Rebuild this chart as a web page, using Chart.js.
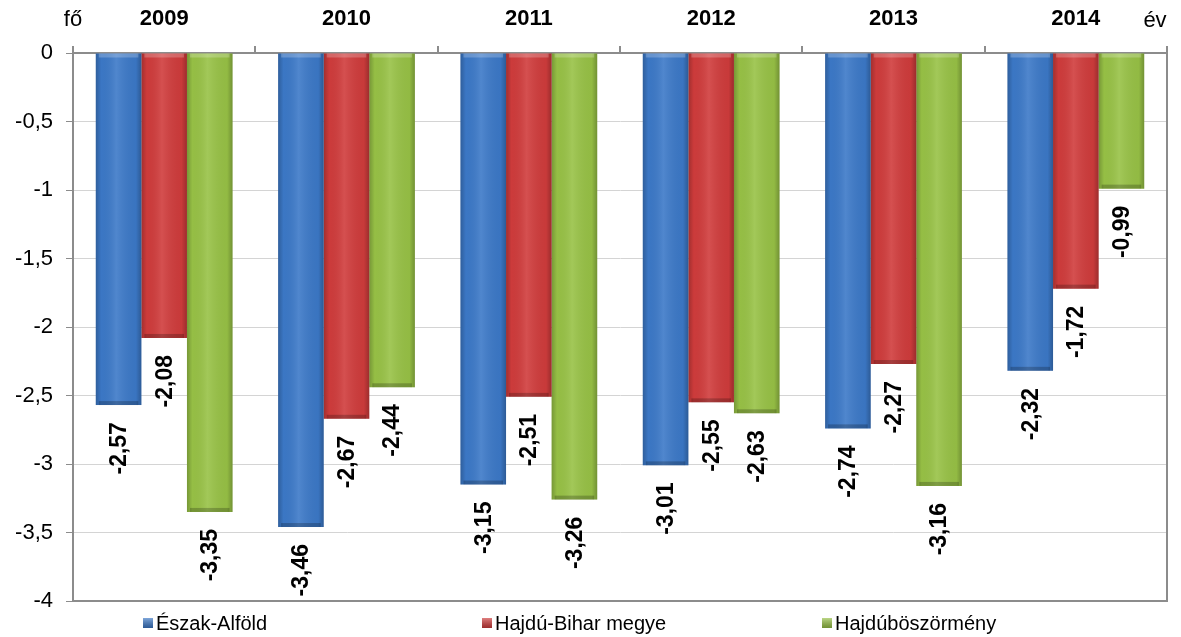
<!DOCTYPE html>
<html>
<head>
<meta charset="utf-8">
<script src="https://cdn.jsdelivr.net/npm/chart.js@4"></script>
<style>
  html, body { margin: 0; padding: 0; background: #fff; }
  #wrap { width: 1181px; height: 637px; }
</style>
</head>
<body>
<div id="wrap"><canvas id="chart"></canvas></div>
<script>
"use strict";

// chart data
const years = ["2009", "2010", "2011", "2012", "2013", "2014"];
const seriesNames = ["Észak-Alföld", "Hajdú-Bihar megye", "Hajdúböszörmény"];
const eszakAlfold = [-2.57, -3.46, -3.15, -3.01, -2.74, -2.32];
const hajduBihar = [-2.08, -2.67, -2.51, -2.55, -2.27, -1.72];
const hajduboszormeny = [-3.35, -2.44, -3.26, -2.63, -3.16, -0.99];
const yTicks = [0, -0.5, -1, -1.5, -2, -2.5, -3, -3.5, -4];

// colours
const barColors = ["#3c79c8", "#d03c3c", "#98c246"];
const FONT = "'Liberation Sans', Arial, sans-serif";

// legend slots (x positions)
const legendX = [143, 482, 822];

const fmt = (v) => String(v).replace(".", ",");

// shading, labels, borders and legend
const decorPlugin = {
  id: "decor",
  afterDatasetsDraw(chart) {
    const ctx = chart.ctx;
    const area = chart.chartArea;

    chart.data.datasets.forEach((ds, di) => {
      const meta = chart.getDatasetMeta(di);
      meta.data.forEach((bar, i) => {
        const p = bar.getProps(["x", "y", "base", "width"], true);
        const left = p.x - p.width / 2;
        const top = Math.min(p.y, p.base);
        const h = Math.abs(p.y - p.base);

        // bevel shading
        ctx.save();
        const g = ctx.createLinearGradient(left, 0, left + p.width, 0);
        g.addColorStop(0, "rgba(0,0,0,0.22)");
        g.addColorStop(0.12, "rgba(0,0,0,0.02)");
        g.addColorStop(0.45, "rgba(255,255,255,0.10)");
        g.addColorStop(0.88, "rgba(0,0,0,0.04)");
        g.addColorStop(1, "rgba(0,0,0,0.25)");
        ctx.fillStyle = g;
        ctx.fillRect(left, top, p.width, h);
        ctx.fillStyle = "rgba(255,255,255,0.22)";
        ctx.fillRect(left + 3, top, p.width - 6, 4);
        ctx.fillStyle = "rgba(0,0,0,0.22)";
        ctx.fillRect(left + 3, top + h - 4, p.width - 6, 4);
        ctx.restore();

        // value label, rotated
        ctx.save();
        ctx.translate(p.x, p.y + 17);
        ctx.rotate(-Math.PI / 2);
        ctx.font = "bold 23px " + FONT;
        ctx.fillStyle = "#000";
        ctx.textAlign = "right";
        ctx.textBaseline = "middle";
        ctx.fillText(fmt(ds.data[i].toFixed(2)), 0, 1);
        ctx.restore();
      });
    });

    // right and bottom border
    ctx.save();
    ctx.strokeStyle = "#8c8c8c";
    ctx.lineWidth = 2;
    ctx.beginPath();
    ctx.moveTo(area.right, area.top - 7);
    ctx.lineTo(area.right, area.bottom);
    ctx.lineTo(area.left, area.bottom);
    ctx.stroke();
    ctx.restore();

    // axis unit texts
    ctx.save();
    ctx.font = "22px " + FONT;
    ctx.fillStyle = "#000";
    ctx.textAlign = "center";
    ctx.textBaseline = "middle";
    ctx.fillText("fő", area.left, 20);
    ctx.fillText("év", area.right - 12, 21);
    ctx.restore();

    // legend
    ctx.save();
    ctx.font = "20px " + FONT;
    ctx.textBaseline = "middle";
    const ly = area.bottom + 22;
    seriesNames.forEach((name, i) => {
      const bx = legendX[i];
      const lg = ctx.createLinearGradient(0, ly - 5, 0, ly + 5);
      lg.addColorStop(0, "rgba(255,255,255,0.35)");
      lg.addColorStop(1, "rgba(0,0,0,0.25)");
      ctx.fillStyle = barColors[i];
      ctx.fillRect(bx, ly - 5, 10, 10);
      ctx.fillStyle = lg;
      ctx.fillRect(bx, ly - 5, 10, 10);
      ctx.fillStyle = "#000";
      ctx.textAlign = "left";
      ctx.fillText(name, bx + 13, ly + 1);
    });
    ctx.restore();
  },
};

const ctx = document.getElementById("chart").getContext("2d");
new Chart(ctx, {
  type: "bar",
  data: {
    labels: years,
    datasets: [
      { label: seriesNames[0], data: eszakAlfold, backgroundColor: barColors[0] },
      { label: seriesNames[1], data: hajduBihar, backgroundColor: barColors[1] },
      { label: seriesNames[2], data: hajduboszormeny, backgroundColor: barColors[2] },
    ],
  },
  options: {
    responsive: true,
    maintainAspectRatio: false,
    animation: false,
    layout: { padding: { left: 0, right: 14, top: 0, bottom: 36 } },
    datasets: {
      bar: { categoryPercentage: 0.75, barPercentage: 1.0, borderWidth: 0 },
    },
    plugins: {
      legend: { display: false },
      tooltip: { enabled: false },
    },
    scales: {
      x: {
        position: "top",
        afterFit(scale) {
          scale.height = 53;
        },
        grid: {
          display: true,
          drawOnChartArea: false,
          drawTicks: true,
          offset: true,
          tickLength: 7,
          color: "#8c8c8c",
          lineWidth: 2,
        },
        border: { display: true, color: "#8c8c8c", width: 2 },
        ticks: {
          color: "#000",
          padding: 14,
          font: { family: FONT, size: 22, weight: "bold" },
        },
      },
      y: {
        min: -4,
        max: 0,
        afterFit(scale) {
          scale.width = 73;
        },
        afterBuildTicks(scale) {
          scale.ticks = yTicks.map((v) => ({ value: v }));
        },
        grid: {
          color: "#d4d4d4",
          lineWidth: 1,
          tickLength: 7,
          tickColor: "#8c8c8c",
        },
        border: { display: true, color: "#8c8c8c", width: 2 },
        ticks: {
          color: "#000",
          padding: 13,
          font: { family: FONT, size: 22 },
          callback: (v) => fmt(v),
        },
      },
    },
  },
  plugins: [decorPlugin],
});
</script>
</body>
</html>
